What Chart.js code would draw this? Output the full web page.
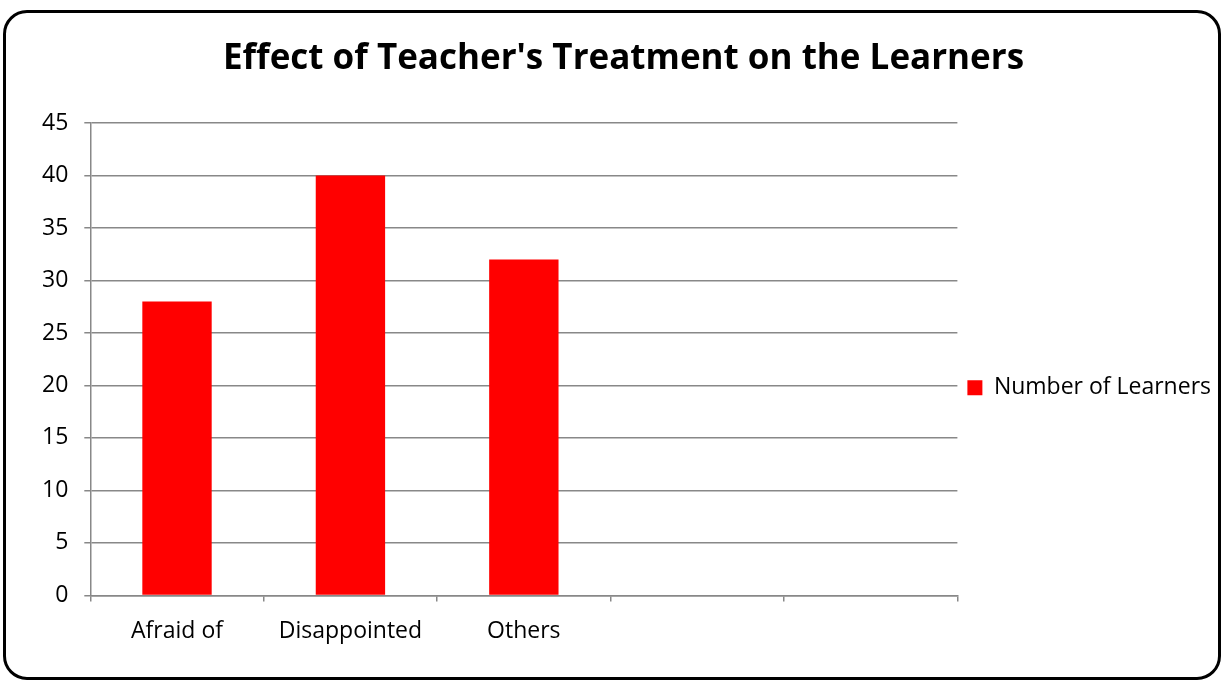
<!DOCTYPE html>
<html>
<head>
<meta charset="utf-8">
<script src="https://cdn.jsdelivr.net/npm/chart.js@4"></script>
<style>
  html, body { margin: 0; padding: 0; background: #fff; }
  #wrap { position: relative; width: 1225px; height: 681px; }
  #frame {
    position: absolute; left: 3px; top: 10px; width: 1212px; height: 664px;
    border: 3px solid #000; border-radius: 24px; pointer-events: none;
  }
  canvas { position: absolute; left: 0; top: 0; }
</style>
</head>
<body>
<div id="wrap">
  <canvas id="chart" width="1225" height="681"></canvas>
  <div id="frame"></div>
</div>
<script>
const categories = ['Afraid of', 'Disappointed', 'Others', '', ''];
const learners = [28, 40, 32, null, null];
const seriesName = 'Number of Learners';
const chartTitle = "Effect of Teacher's Treatment on the Learners";

const ctx = document.getElementById('chart').getContext('2d');
const font = "'Open Sans', 'Noto Sans', sans-serif";

new Chart(ctx, {
    type: 'bar',
    data: {
        labels: categories,
        datasets: [{
            label: seriesName,
            data: learners,
            backgroundColor: '#ff0000',
            borderWidth: 0,
            barPercentage: 1,
            categoryPercentage: 0.4,
        }],
    },
    options: {
        responsive: false,
        animation: false,
        layout: { padding: { left: 26, right: 4, top: 38, bottom: 20 } },
        plugins: {
            title: {
                display: true,
                text: chartTitle,
                color: '#000',
                font: { family: font, size: 35, weight: 'bold' },
                padding: { top: 0, bottom: 43 },
            },
            legend: {
                position: 'right',
                // empty legend title only pushes the entry down to match the original
                title: { display: true, text: '', font: { size: 12 }, padding: { top: 62, bottom: 0 } },
                labels: {
                    color: '#000',
                    font: { family: font, size: 23 },
                    boxWidth: 15,
                    boxHeight: 15,
                    padding: 10,
                },
            },
            tooltip: { enabled: false },
        },
        scales: {
            x: {
                grid: {
                    offset: true,
                    drawOnChartArea: false,
                    color: '#888',
                    lineWidth: 1.5,
                    tickLength: 6,
                },
                border: { color: '#888', width: 1.5 },
                ticks: { color: '#000', font: { family: font, size: 23 }, padding: 16 },
            },
            y: {
                min: 0,
                max: 45,
                ticks: { stepSize: 5, color: '#000', font: { family: font, size: 23 }, padding: 16 },
                grid: { color: '#888', lineWidth: 1.5, tickLength: 6 },
                border: { color: '#888', width: 1.5 },
            },
        },
    },
});
</script>
</body>
</html>
